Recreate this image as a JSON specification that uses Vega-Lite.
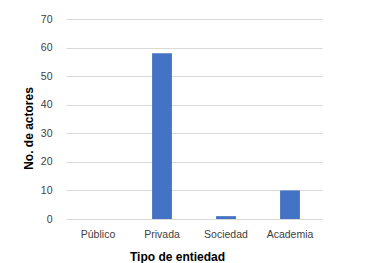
{
  "$schema": "https://vega.github.io/schema/vega-lite/v6.json",
  "width": 256,
  "height": 200,
  "autosize": {"type": "none"},
  "padding": {"left": 66, "top": 19, "right": 50, "bottom": 44},
  "background": "white",
  "config": {
    "font": "Liberation Sans",
    "view": {"stroke": null}
  },
  "data": {
    "values": [
      {"tipo": "Público", "n": 0},
      {"tipo": "Privada", "n": 58},
      {"tipo": "Sociedad", "n": 1},
      {"tipo": "Academia", "n": 10}
    ]
  },
  "mark": {"type": "bar", "color": "#4472C4"},
  "encoding": {
    "x": {
      "field": "tipo",
      "type": "nominal",
      "sort": null,
      "scale": {"paddingInner": 0.69, "paddingOuter": 0.345},
      "axis": {
        "title": "Tipo de entiedad",
        "titleFontSize": 12,
        "titleFontWeight": "bold",
        "titleColor": "#000000",
        "titleX": 111,
        "titleY": 37,
        "titleBaseline": "middle",
        "labelAngle": 0,
        "labelFontSize": 10.5,
        "labelColor": "#404040",
        "labelPadding": 10,
        "domain": false,
        "ticks": false
      }
    },
    "y": {
      "field": "n",
      "type": "quantitative",
      "scale": {"domain": [0, 70]},
      "axis": {
        "title": "No. de actores",
        "titleFontSize": 12,
        "titleFontWeight": "bold",
        "titleColor": "#000000",
        "titleX": -38,
        "titleY": 109,
        "titleBaseline": "middle",
        "values": [0, 10, 20, 30, 40, 50, 60, 70],
        "labelFontSize": 10.5,
        "labelColor": "#404040",
        "labelPadding": 14,
        "domain": false,
        "ticks": false,
        "gridColor": "#d9d9d9",
        "gridWidth": 1
      }
    }
  }
}
